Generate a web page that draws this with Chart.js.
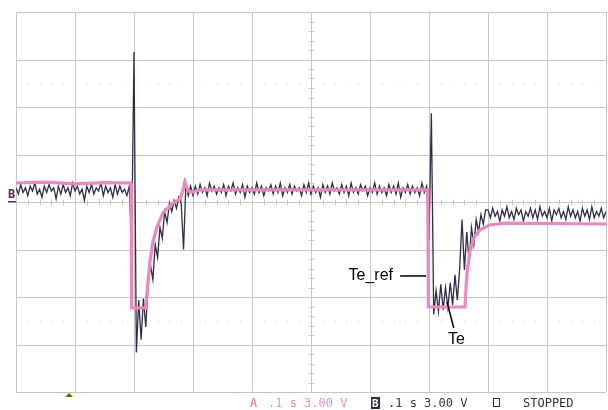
<!DOCTYPE html>
<html>
<head>
<meta charset="utf-8">
<title>scope</title>
<script src="https://cdn.jsdelivr.net/npm/chart.js"></script>
<style>
    body { margin: 0; background: #fff; }
</style>
</head>
<body>
<canvas id="myChart" width="608" height="410"></canvas>
<script>
// scope settings: 0.1 s/div, 3.00 V/div, 10 x 8 divisions
var xDivs = [0, 0.1, 0.2, 0.3, 0.4, 0.5, 0.6, 0.7, 0.8, 0.9, 1.0];
var yDivs = [-12, -9, -6, -3, 0, 3, 6, 9, 12];
var dotLevels = [7.5, -7.5];

// channel B: measured Te, one sample every 4 ms
var sampleStep = 0.004;
var teVolt = [
    0.9, 0.5, 1.1, 0.6, 0.9, 0.4, 1.0, 0.7, 1.2, 0.5,
    0.8, 0.3, 1.0, 0.6, 1.1, 0.7, 0.9, 0.2, 1.0, 0.5,
    1.1, 0.6, 0.9, 0.4, 1.2, 0.7, 1.0, 0.5, 0.8, 0.1,
    1.0, 0.6, 1.1, 0.5, 0.9, 0.7, 1.2, 0.4, 1.0, 0.6,
    0.9, 0.3, 1.1, 0.5, 1.0, 0.6, 0.8, 0.4, 1.0,
    -2.7, 9.47, -9.5, -6.2, -8.7, -6.1, -7.9, -5.2, -4.0, -4.9,
    -2.7, -3.5, -1.6, -2.3, -0.6, -1.3, -0.1, -0.6, 0.1, -0.4,
    0.3, -0.1, -3.0, 1.2, 0.4, 1.0, 0.4,
    1.0, 0.5, 1.1, 0.6, 0.9, 0.4, 1.2, 0.7, 1.0, 0.5,
    0.9, 0.6, 1.1, 0.4, 1.0, 0.7, 1.2, 0.5, 0.9, 0.6,
    1.1, 0.3, 1.0, 0.6, 0.9, 0.5, 1.2, 0.6, 1.0, 0.4,
    0.9, 0.7, 1.1, 0.5, 1.0, 0.6, 1.2, 0.4, 0.9, 0.6,
    1.1, 0.5, 1.0, 0.7, 0.9, 0.4, 1.1, 0.6, 1.2, 0.5,
    1.0, 0.6, 0.9, 0.3, 1.1, 0.6, 1.0, 0.5, 1.2, 0.7,
    0.9, 0.5, 1.1, 0.6, 1.0, 0.4, 1.2, 0.6, 0.9, 0.5,
    1.1, 0.7, 1.0, 0.4, 0.9, 0.6, 1.2, 0.5, 1.0, 0.6,
    0.9, 0.4, 1.1, 0.6, 1.0, 0.5, 1.2, 0.3, 0.9, 0.6,
    1.1, 0.5, 1.0, 0.6, 0.9, 0.4, 1.2, 0.6, 1.0,
    -2.4, 5.6, -7.1, -5.6, -6.9, -5.2, -6.8, -5.4, -6.7, -5.1,
    -6.5, -4.6, -6.2, -4.2, -1.1, -4.3, -1.9, -3.8, -1.6, -2.7,
    -1.1, -1.9, -0.8, -1.4, -0.5,
    -0.5, -1.0, -0.4, -0.9, -0.6, -1.2, -0.5, -0.9, -0.3, -1.0,
    -0.6, -1.1, -0.4, -0.8, -0.5, -1.2, -0.6, -0.9, -0.4, -1.0,
    -0.5, -1.1, -0.3, -0.9, -0.6, -1.0, -0.4, -1.2, -0.5, -0.8,
    -0.4, -1.0, -0.6, -1.1, -0.3, -0.9, -0.5, -1.0, -0.6, -1.2,
    -0.4, -0.9, -0.5, -1.1, -0.3, -1.0, -0.6, -0.9, -0.4, -1.0, -0.6
];

// channel A: reference Te_ref
var refTime = [0, 0.05, 0.1, 0.15, 0.195, 0.196, 0.220, 0.222, 0.227, 0.232,
    0.239, 0.249, 0.266, 0.278, 0.283, 0.286, 0.292, 0.300, 0.312, 0.698,
    0.699, 0.761, 0.764, 0.769, 0.776, 0.786, 0.803, 0.829, 1.0];
var refVolt = [1.2, 1.25, 1.15, 1.22, 1.2, -6.69, -6.69, -5.75, -3.79, -2.53,
    -1.58, -0.69, -0.06, 0.19, 0.76, 1.25, 0.69, 0.63, 0.76, 0.76,
    -6.63, -6.63, -4.61, -3.16, -2.27, -1.77, -1.45, -1.33, -1.39];

var teData = teVolt.map(function (v, i) {
    return { x: i * sampleStep, y: v };
});
var refData = refTime.map(function (t, i) {
    return { x: t, y: refVolt[i] };
});

var scopeGrid = {
    id: 'scopeGrid',
    beforeDatasetsDraw: function (chart) {
        var ctx = chart.ctx, xs = chart.scales.x, ys = chart.scales.y, a = chart.chartArea;
        ctx.save();
        ctx.strokeStyle = '#c6c6c6';
        ctx.lineWidth = 1;
        xDivs.forEach(function (t) {
            var px = Math.round(xs.getPixelForValue(t)) + 0.5;
            ctx.beginPath(); ctx.moveTo(px, a.top); ctx.lineTo(px, a.bottom); ctx.stroke();
        });
        yDivs.forEach(function (v) {
            var py = Math.round(ys.getPixelForValue(v)) + 0.5;
            ctx.beginPath(); ctx.moveTo(a.left, py); ctx.lineTo(a.right, py); ctx.stroke();
        });
        // minor ticks on the centre lines
        var cy = Math.round(ys.getPixelForValue(0)) + 0.5;
        var cx = Math.round(xs.getPixelForValue(0.5)) + 0.5;
        for (var k = 1; k < 50; k++) {
            if (k % 5 === 0) continue;
            var tx = Math.round(xs.getPixelForValue(k * 0.02)) + 0.5;
            ctx.beginPath(); ctx.moveTo(tx, cy - 3); ctx.lineTo(tx, cy + 3); ctx.stroke();
        }
        for (var j = 1; j < 40; j++) {
            if (j % 5 === 0) continue;
            var ty = Math.round(ys.getPixelForValue(-12 + j * 0.6)) + 0.5;
            ctx.beginPath(); ctx.moveTo(cx - 3, ty); ctx.lineTo(cx + 3, ty); ctx.stroke();
        }
        // dotted level lines
        ctx.fillStyle = '#c6c6c6';
        dotLevels.forEach(function (v) {
            var py = Math.round(ys.getPixelForValue(v));
            for (var k = 1; k < 50; k++) {
                if (k % 5 === 0) continue;
                var dx = Math.round(xs.getPixelForValue(k * 0.02));
                ctx.fillRect(dx, py, 1, 1);
            }
        });
        ctx.restore();
    },
    afterDraw: function (chart) {
        var ctx = chart.ctx, xs = chart.scales.x, ys = chart.scales.y, a = chart.chartArea;
        ctx.save();
        // labels for the two traces
        ctx.fillStyle = '#000';
        ctx.strokeStyle = '#000';
        ctx.lineWidth = 1.5;
        ctx.font = '16px "Liberation Sans", Arial, sans-serif';
        ctx.textBaseline = 'middle';
        ctx.textAlign = 'right';
        ctx.fillText('Te_ref', xs.getPixelForValue(0.639), ys.getPixelForValue(-4.67));
        ctx.beginPath();
        ctx.moveTo(xs.getPixelForValue(0.651), ys.getPixelForValue(-4.67));
        ctx.lineTo(xs.getPixelForValue(0.695), ys.getPixelForValue(-4.67));
        ctx.stroke();
        ctx.textAlign = 'left';
        ctx.fillText('Te', xs.getPixelForValue(0.732), ys.getPixelForValue(-8.72));
        ctx.beginPath();
        ctx.moveTo(xs.getPixelForValue(0.7305), ys.getPixelForValue(-6.32));
        ctx.lineTo(xs.getPixelForValue(0.742), ys.getPixelForValue(-7.96));
        ctx.stroke();

        // channel B ground marker
        var gy = ys.getPixelForValue(0);
        ctx.fillStyle = '#5b2350';
        ctx.font = 'bold 12px "DejaVu Sans Mono", monospace';
        ctx.textBaseline = 'alphabetic';
        ctx.fillText('B', 8, gy - 4);
        ctx.fillRect(8, gy - 1, 8, 1.5);

        // trigger position
        var trigX = xs.getPixelForValue(0.09);
        ctx.fillStyle = '#6e6a00';
        ctx.beginPath();
        ctx.moveTo(trigX - 4, a.bottom + 5);
        ctx.lineTo(trigX + 4, a.bottom + 5);
        ctx.lineTo(trigX, a.bottom + 1);
        ctx.closePath();
        ctx.fill();

        // status line
        var by = a.bottom + 15;
        ctx.fillStyle = '#ec8cc2';
        ctx.font = 'bold 12px "DejaVu Sans Mono", monospace';
        ctx.fillText('A', 250, by);
        ctx.font = '12px "DejaVu Sans Mono", monospace';
        ctx.fillText('.1 s 3.00 V', 268, by);
        ctx.fillStyle = '#2e2d4a';
        ctx.fillRect(371, by - 10, 9, 12);
        ctx.fillStyle = '#fff';
        ctx.font = 'bold 11px "DejaVu Sans Mono", monospace';
        ctx.fillText('B', 372, by);
        ctx.fillStyle = '#333';
        ctx.font = '12px "DejaVu Sans Mono", monospace';
        ctx.fillText('.1 s 3.00 V', 388, by);
        ctx.strokeStyle = '#333';
        ctx.lineWidth = 1;
        ctx.strokeRect(493.5, by - 8.5, 6, 8);
        ctx.fillText('STOPPED', 523, by);
        ctx.restore();
    }
};

var ctx = document.getElementById('myChart').getContext('2d');
var myChart = new Chart(ctx, {
    type: 'line',
    data: {
        datasets: [{
            label: 'Te_ref',
            data: refData,
            borderColor: '#ec87bf',
            borderWidth: 3.2,
            order: 1
        }, {
            label: 'Te',
            data: teData,
            borderColor: '#2e2d4a',
            borderWidth: 1.3,
            order: 2
        }]
    },
    options: {
        responsive: false,
        animation: false,
        layout: { padding: { left: 16, top: 12, right: 2, bottom: 18 } },
        elements: { point: { radius: 0 }, line: { tension: 0 } },
        plugins: { legend: { display: false }, tooltip: { enabled: false } },
        scales: {
            x: { type: 'linear', min: 0, max: 1, display: false },
            y: { min: -12, max: 12, display: false }
        }
    },
    plugins: [scopeGrid]
});
</script>
</body>
</html>
